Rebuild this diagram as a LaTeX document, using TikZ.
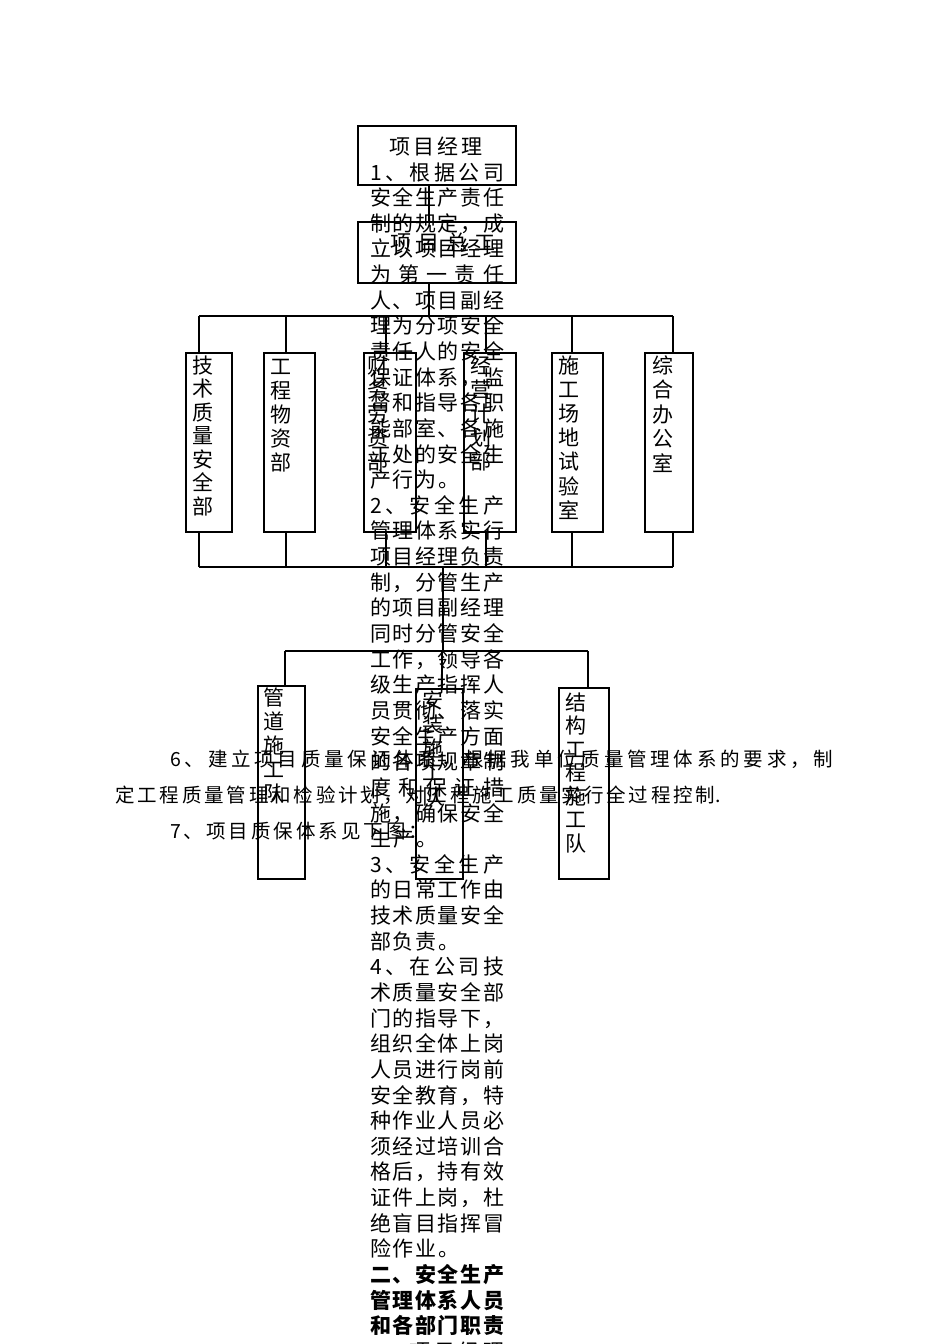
\documentclass[tikz,border=0pt]{standalone}
\usepackage{fontspec}
\setmainfont{Noto Sans CJK SC}
\makeatletter
\newcommand\sprline[2]{\begingroup\edef\sp@t{#2}\makebox[#1][s]{\expandafter\sp@do\sp@t\@nnil}\endgroup}
\def\sp@do#1{\ifx#1\@nnil\unskip\else#1\hfil\expandafter\sp@do\fi}
\newcommand\vstk[2]{\vbox{\baselineskip=#1\lineskiplimit=-100pt\lineskip=0pt\edef\sp@t{#2}\expandafter\vs@do\sp@t\@nnil}}
\def\vs@do#1{\ifx#1\@nnil\else\hbox to 22pt{\hss\vrule height .88em depth .12em width 0pt#1\hss}\expandafter\vs@do\fi}
\makeatother
\tikzset{
  box/.style={draw, line width=1.8pt, inner sep=0pt, anchor=north west},
  conn/.style={line width=1.8pt},
  ptxt/.style={inner sep=0pt, anchor=base west, font=\fontsize{21pt}{25.6pt}\selectfont},
  btxt/.style={inner sep=0pt, anchor=base west, font=\fontsize{19.5pt}{22pt}\selectfont},
  vlab/.style={inner sep=0pt, anchor=north, font=\fontsize{21pt}{24pt}\selectfont},
  hlab/.style={inner sep=0pt, anchor=base, font=\fontsize{21pt}{24pt}\selectfont}
}
\begin{document}
\begin{tikzpicture}[x=1pt,y=-1pt]
\useasboundingbox (0,0) rectangle (950,1344);
% boxes
\node[box, minimum width=158pt, minimum height=59pt] (pm) at (357,125) {};
\node[box, minimum width=158pt, minimum height=61pt] (zg) at (357,221) {};
\node[box, minimum width=46pt, minimum height=179pt] (b1) at (185,352) {};
\node[box, minimum width=51pt, minimum height=179pt] (b2) at (263,352) {};
\node[box, minimum width=52pt, minimum height=179pt] (b3) at (363,352) {};
\node[box, minimum width=52pt, minimum height=179pt] (b4) at (463,352) {};
\node[box, minimum width=51pt, minimum height=179pt] (b5) at (551,352) {};
\node[box, minimum width=48pt, minimum height=179pt] (b6) at (644,352) {};
\node[box, minimum width=47pt, minimum height=193pt] (bA) at (257,685) {};
\node[box, minimum width=47pt, minimum height=190pt] (bB) at (415,688) {};
\node[box, minimum width=50pt, minimum height=191pt] (bC) at (558,687) {};
% box labels
\node[hlab] (pmt) at (436,154) {\sprline{93pt}{项目经理}};
\node[hlab] (zgt) at (443,250) {\sprline{105pt}{项目总工}};
\node[vlab] (b1t) at (203,354.5) {\vstk{23.5pt}{技术质量安全部}};
\node[vlab] (b2t) at (281,355.5) {\vstk{24pt}{工程物资部}};
\node[vlab] (b3t) at (378,354.5) {\vstk{24pt}{财务劳资部}};
\node[vlab] (b4t) at (481,354.5) {\vstk{24pt}{经营计划部}};
\node[vlab] (b5t) at (569,354.5) {\vstk{24.2pt}{施工场地试验室}};
\node[vlab] (b6t) at (663,354.5) {\vstk{24.5pt}{综合办公室}};
\node[vlab] (bAt) at (274,686.5) {\vstk{24pt}{管道施工队}};
\node[vlab] (bBt) at (433,689.5) {\vstk{24pt}{安装施工队}};
\node[vlab] (bCt) at (576,691.5) {\vstk{23.5pt}{结构工程施工队}};
% connector coordinates
\coordinate (j0) at (429,316);
\coordinate (c1) at (199,316); \coordinate (c2) at (286,316); \coordinate (c3) at (386,316);
\coordinate (c4) at (486,316); \coordinate (c5) at (572,316); \coordinate (c6) at (673,316);
\coordinate (e1) at (199,567); \coordinate (e2) at (286,567); \coordinate (e3) at (386,567);
\coordinate (e4) at (486,567); \coordinate (e5) at (572,567); \coordinate (e6) at (673,567);
\coordinate (m1) at (443,567); \coordinate (m2) at (443,651);
\coordinate (f1) at (285,651); \coordinate (f2) at (442,651); \coordinate (f3) at (588,651);
% connectors
\draw[conn] (pm.south -| j0) -- (zg.north -| j0);
\draw[conn] (zg.south -| j0) -- (j0);
\draw[conn] (c1) -- (c6);
\draw[conn] (e1) -- (e6);
\foreach \k in {1,...,6}{
  \draw[conn] (c\k) -- (b\k.north -| c\k);
  \draw[conn] (b\k.south -| e\k) -- (e\k);
}
\draw[conn] (m1) -- (m2);
\draw[conn] (f1) -- (f3);
\draw[conn] (f1) -- (bA.north -| f1);
\draw[conn] (f2) -- (bB.north -| f2);
\draw[conn] (f3) -- (bC.north -| f3);
% body text
\node[btxt] (s1) at (170,766) {\sprline{663pt}{6、建立项目质量保证体系，根据我单位质量管理体系的要求，制}};
\node[btxt] (s2) at (115,802) {\sprline{600pt}{定工程质量管理和检验计划，对工程施工质量实行全过程控制}.};
\node[btxt] (s3) at (170,838) {\sprline{258pt}{7、项目质保体系见下图：}};
% overflowing column text
\foreach \w/\txt [count=\i from 0] in {134/1、根据公司, 134/安全生产责任, 134/制的规定，成, 134/立以项目经理, 134/为第一责任, 134/人、项目副经, 134/理为分项安全, 134/责任人的安全, 134/保证体系，监, 134/督和指导各职, 134/能部室、各施, 134/工处的安全生, 89/产行为。, 134/2、安全生产, 134/管理体系实行, 134/项目经理负责, 134/制，分管生产, 134/的项目副经理, 134/同时分管安全, 134/工作，领导各, 134/级生产指挥人, 134/员贯彻、落实, 134/安全生产方面, 134/的各项规章制, 134/度和保证措, 134/施，确保安全, 67/生产。, 134/3、安全生产, 134/的日常工作由, 134/技术质量安全, 89/部负责。, 134/4、在公司技, 134/术质量安全部, 134/门的指导下，, 134/组织全体上岗, 134/人员进行岗前, 134/安全教育，特, 134/种作业人员必, 134/须经过培训合, 134/格后，持有效, 134/证件上岗，杜, 134/绝盲目指挥冒, 89/险作业。}{
  \node[ptxt] (p\i) at (370,{180+25.64*\i}) {\sprline{\w pt}{\txt}};
}
\foreach \txt [count=\i from 43] in {二、安全生产, 管理体系人员, 和各部门职责}{
  \node[ptxt, font=\fontsize{21pt}{25.6pt}\selectfont\bfseries] (p\i) at (370,{180+25.64*\i}) {\sprline{134pt}{\txt}};
}
\node[ptxt] (p46) at (370,{180+25.64*46}) {\sprline{134pt}{1、项目经理}};
\end{tikzpicture}
\end{document}
